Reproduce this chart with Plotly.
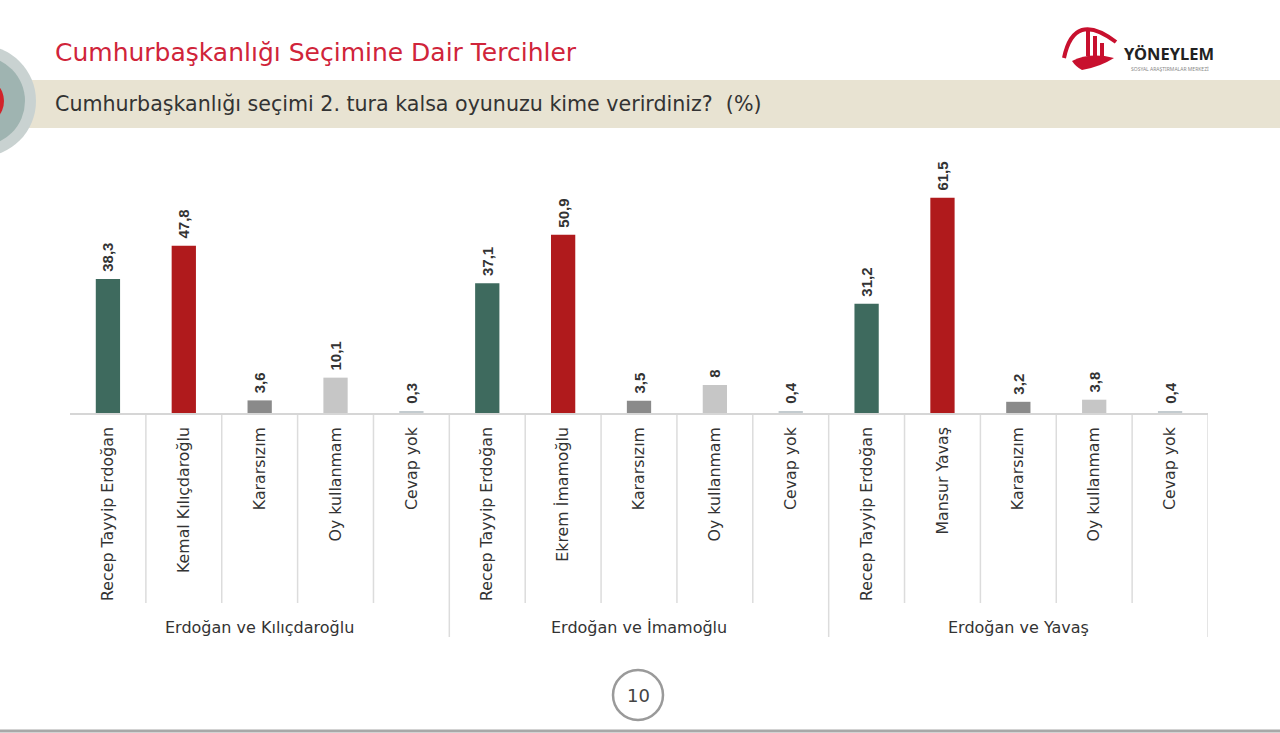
import plotly.graph_objects as go

W, H = 1280, 733

# ---- data ----
groups = ["Erdoğan ve Kılıçdaroğlu", "Erdoğan ve İmamoğlu", "Erdoğan ve Yavaş"]
labels_kk = ["Recep Tayyip Erdoğan", "Kemal Kılıçdaroğlu", "Kararsızım", "Oy kullanmam", "Cevap yok"]
labels_ei = ["Recep Tayyip Erdoğan", "Ekrem İmamoğlu", "Kararsızım", "Oy kullanmam", "Cevap yok"]
labels_my = ["Recep Tayyip Erdoğan", "Mansur Yavaş", "Kararsızım", "Oy kullanmam", "Cevap yok"]
values_kk = [38.3, 47.8, 3.6, 10.1, 0.3]
values_ei = [37.1, 50.9, 3.5, 8, 0.4]
values_my = [31.2, 61.5, 3.2, 3.8, 0.4]
colors = ["#3e6a5e", "#b01a1c", "#8a8a8a", "#c6c6c6", "#c3cbcf"]

all_labels = labels_kk + labels_ei + labels_my
all_values = values_kk + values_ei + values_my
all_colors = colors * 3
xs = list(range(len(all_labels)))

FONT = "DejaVu Sans"


def fmt(v):
    s = ("%g" % v)
    return "\u00a0" + s.replace(".", ",")


def px(x):
    return x / W


def py(y):
    return 1 - y / H


fig = go.Figure()
fig.add_trace(go.Bar(
    x=xs, y=all_values,
    marker=dict(color=all_colors, line=dict(width=0)),
    width=0.32,
    text=[fmt(v) for v in all_values],
    textposition="outside",
    textangle=-90,
    constraintext="none",
    textfont=dict(family="Liberation Sans, Arial", size=15, color="#333333", weight="bold"),
    cliponaxis=False,
    hoverinfo="skip",
))

shapes = []
# background beige band
shapes.append(dict(type="rect", xref="paper", yref="paper", x0=px(0), x1=px(1280),
                   y0=py(128), y1=py(80), fillcolor="#e8e3d2", line=dict(width=0), layer="below"))
# left circles
cx, cy = -20, 101
for r, col in [(56, "#c9d2d1"), (45, "#9fb4b1"), (24, "#d2232a")]:
    shapes.append(dict(type="circle", xref="paper", yref="paper",
                       x0=px(cx - r), x1=px(cx + r), y0=py(cy + r), y1=py(cy - r),
                       fillcolor=col, line=dict(width=0), layer="below"))
# page number circle
shapes.append(dict(type="circle", xref="paper", yref="paper",
                   x0=px(613), x1=px(663), y0=py(720), y1=py(670),
                   fillcolor="white", line=dict(color="#9a9a9a", width=2.5)))
# bottom line
shapes.append(dict(type="line", xref="paper", yref="paper", x0=0, x1=1,
                   y0=py(731), y1=py(731), line=dict(color="#a8a8a8", width=3)))
# logo
shapes.append(dict(type="path", xref="paper", yref="paper",
                   path="M %f,%f Q %f,%f %f,%f" % (px(1064), py(58), px(1074), py(10), px(1116), py(42)),
                   line=dict(color="#c8102e", width=4)))
for bx, top in [(1088, 29), (1095, 36), (1102, 43)]:
    shapes.append(dict(type="rect", xref="paper", yref="paper", x0=px(bx - 2), x1=px(bx + 2),
                       y0=py(56), y1=py(top), fillcolor="#c8102e", line=dict(width=0)))
shapes.append(dict(type="path", xref="paper", yref="paper",
                   path="M %f,%f Q %f,%f %f,%f Q %f,%f %f,%f Q %f,%f %f,%f Z" % (
                       px(1072), py(61), px(1090), py(52), px(1114), py(58),
                       px(1100), py(67), px(1082), py(70), px(1076), py(67), px(1072), py(61)),
                   fillcolor="#c8102e", line=dict(width=0)))

# dividers below axis
for i in range(len(xs) - 1):
    bottom = 637 if (i + 1) % 5 == 0 else 603
    shapes.append(dict(type="line", xref="x", yref="paper", x0=i + 0.5, x1=i + 0.5,
                       y0=py(bottom), y1=py(415), line=dict(color="#dcdcdc", width=1.5)))
shapes.append(dict(type="line", xref="x", yref="paper", x0=len(xs) - 0.5, x1=len(xs) - 0.5,
                   y0=py(637), y1=py(415), line=dict(color="#dcdcdc", width=1.5)))

annotations = [
    dict(text="Cumhurbaşkanlığı Seçimine Dair Tercihler", xref="paper", yref="paper",
         x=px(53), y=py(52), xanchor="left", yanchor="middle", showarrow=False,
         font=dict(family=FONT, size=25, color="#d0243a")),
    dict(text="Cumhurbaşkanlığı seçimi 2. tura kalsa oyunuzu kime verirdiniz?  (%)", xref="paper", yref="paper",
         x=px(53), y=py(104), xanchor="left", yanchor="middle", showarrow=False,
         font=dict(family=FONT, size=20.6, color="#333333")),
    dict(text="<b>YÖNEYLEM</b>", xref="paper", yref="paper",
         x=px(1169), y=py(54), xanchor="center", yanchor="middle", showarrow=False,
         font=dict(family="Noto Sans", size=16.5, color="#222222")),
    dict(text="SOSYAL ARAŞTIRMALAR MERKEZİ", xref="paper", yref="paper",
         x=px(1170), y=py(69), xanchor="center", yanchor="middle", showarrow=False,
         font=dict(family="Noto Sans", size=5, color="#888888")),
    dict(text="10", xref="paper", yref="paper",
         x=px(638), y=py(695), xanchor="center", yanchor="middle", showarrow=False,
         font=dict(family=FONT, size=18, color="#444444")),
]
for gi, g in enumerate(groups):
    annotations.append(dict(text=g, xref="x", yref="paper", x=gi * 5 + 2, y=py(627),
                            xanchor="center", yanchor="middle", showarrow=False,
                            font=dict(family=FONT, size=16, color="#333333")))

fig.update_layout(
    width=W, height=H,
    margin=dict(l=0, r=0, t=0, b=0),
    paper_bgcolor="white", plot_bgcolor="white",
    showlegend=False,
    shapes=shapes,
    annotations=annotations,
    xaxis=dict(domain=[px(70), px(1208)], range=[-0.5, len(xs) - 0.5],
               tickmode="array", tickvals=xs, ticktext=all_labels, tickangle=-90,
               tickfont=dict(family=FONT, size=15.8, color="#333333"),
               showgrid=False, zeroline=False, showline=True, linecolor="#d6d6d6", linewidth=1.5,
               ticks="", ticklabelstandoff=6, fixedrange=True),
    yaxis=dict(domain=[py(413), py(150)], range=[0, (413 - 150) / 3.5],
               visible=False, showgrid=False, zeroline=False, fixedrange=True),
)

fig.write_html("out.html")
